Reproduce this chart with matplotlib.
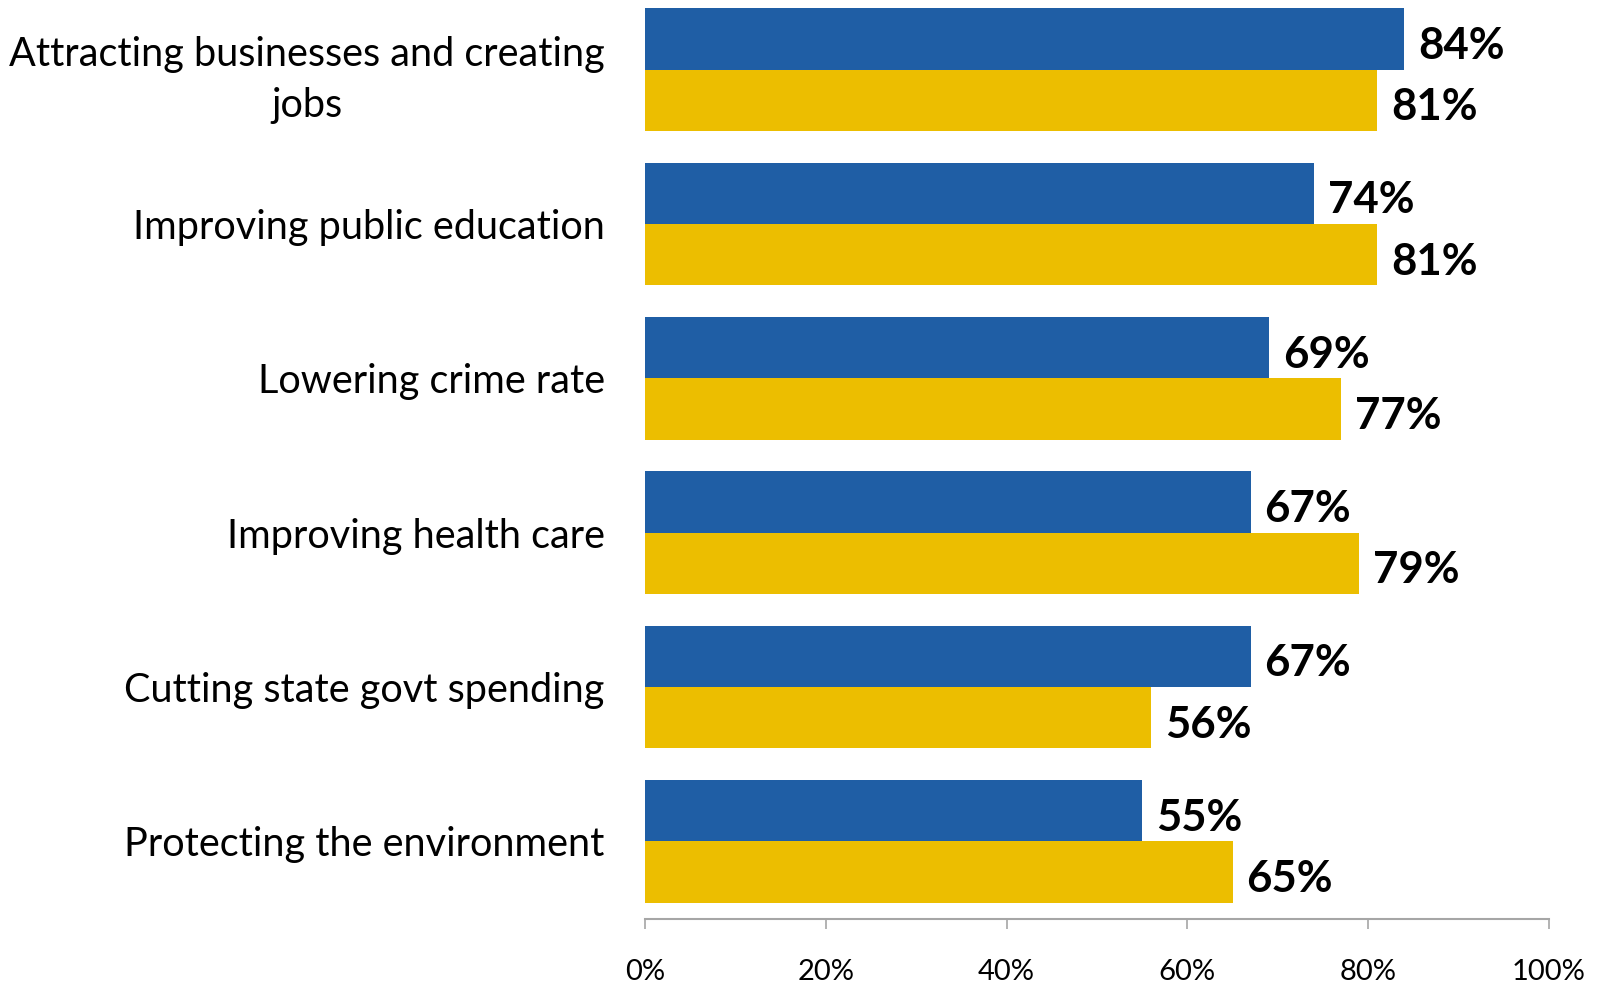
import matplotlib.pyplot as plt
import numpy as np

# survey items, top to bottom
categories = ["Attracting businesses and creating\njobs",
              "Improving public education",
              "Lowering crime rate",
              "Improving health care",
              "Cutting state govt spending",
              "Protecting the environment"]
blue_vals = [84, 74, 69, 67, 67, 55]
gold_vals = [81, 81, 77, 79, 56, 65]
tick_vals = [0, 20, 40, 60, 80, 100]

blue = '#1F5EA5'
gold = '#ECBE00'

fig = plt.figure(figsize=(16.03, 9.83), dpi=100)
ax = fig.add_axes([0.4024, 0.0655, 0.5639, 0.9423])

y = np.arange(len(categories))
h = 60 / 151
bars_b = ax.barh(y - h / 2, blue_vals, height=h, color=blue)
bars_g = ax.barh(y + h / 2, gold_vals, height=h, color=gold)

for bars, vals in [(bars_b, blue_vals), (bars_g, gold_vals)]:
    for b, v in zip(bars, vals):
        ax.annotate(f"{v}%", (v, b.get_y() + b.get_height() / 2),
                    xytext=(10, -5), textcoords='offset points',
                    ha='left', va='center', fontsize=31.5, fontweight='bold',
                    family='Lato', color='black')

ax.set_xlim(0, 100)
ax.set_ylim(5.5, -0.5)
ax.set_yticks(y)
ax.set_yticklabels(categories, fontsize=28.5, family='Lato',
                   multialignment='center', linespacing=1.45)
ax.tick_params(axis='y', length=0, pad=29)
ax.set_xticks(tick_vals)
ax.set_xticklabels([f"{t}%" for t in tick_vals], fontsize=21, family='Lato')
ax.tick_params(axis='x', direction='out', length=7, width=1.2, color='#A6A6A6', pad=22)

for s in ['top', 'right', 'left']:
    ax.spines[s].set_visible(False)
ax.spines['bottom'].set_color('#A6A6A6')
ax.spines['bottom'].set_linewidth(1.5)

fig.savefig('out.png', dpi=100)
